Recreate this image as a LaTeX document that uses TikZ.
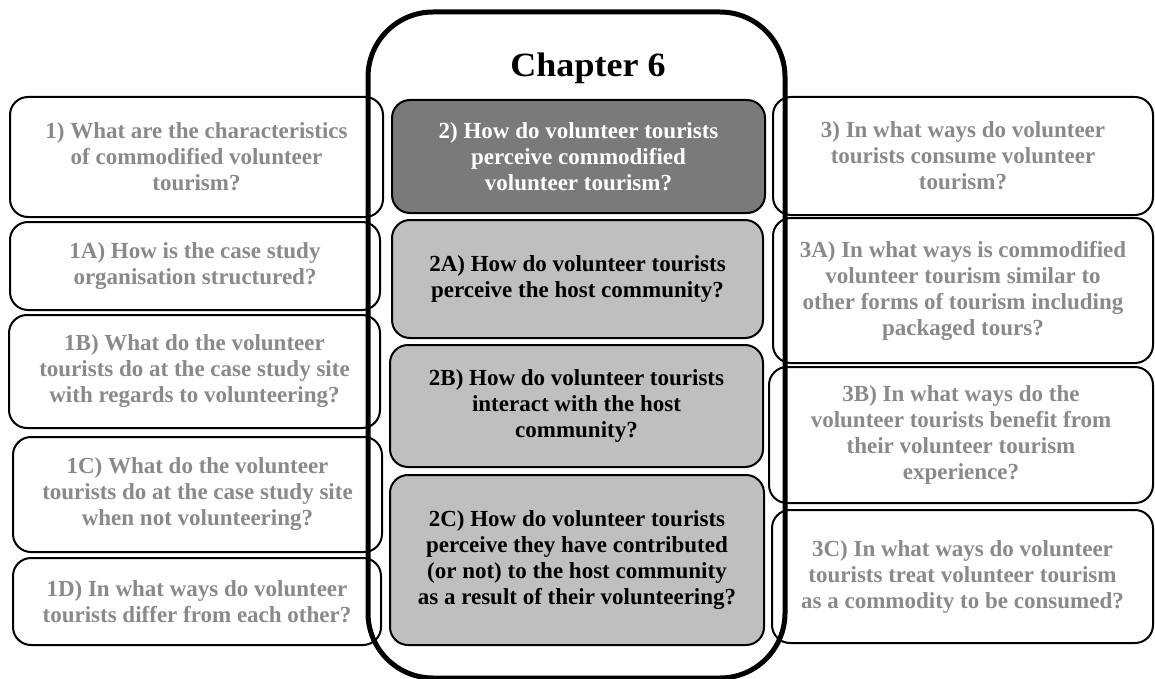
\documentclass[tikz,border=0pt]{standalone}
\usepackage{fontspec}
\setmainfont{Liberation Serif}
\newfontfamily\titlefamily{Liberation Serif}[FakeStretch=1.06]
\definecolor{qgray}{HTML}{8A8A8A}
\definecolor{darkfill}{HTML}{7A7A7A}
\definecolor{lightfill}{HTML}{BFBFBF}
\newcommand\qfont{\fontsize{23}{26}\selectfont\bfseries}
\tikzset{
  qbox/.style={draw=black, line width=2pt, rounded corners=18pt, fill=white,
    align=center, inner sep=0pt, font=\qfont, text=qgray},
  darkbox/.style={qbox, fill=darkfill, text=white},
  lightbox/.style={qbox, fill=lightfill, text=black},
  frame/.style={draw=black, line width=5pt, rounded corners=65pt},
}
\begin{document}
\begin{tikzpicture}[x=1pt,y=-1pt]
\useasboundingbox (0,0) rectangle (1155,679);
% left column
\node[qbox, minimum width=373pt, minimum height=120pt] (q1) at (196.5,157) {1) What are the characteristics\\of commodified volunteer\\tourism?};
\node[qbox, minimum width=370pt, minimum height=88pt] (q1a) at (195,266) {1A) How is the case study\\organisation structured?};
\node[qbox, minimum width=371pt, minimum height=113pt] (q1b) at (194.5,371.5) {1B) What do the volunteer\\tourists do at the case study site\\with regards to volunteering?};
\node[qbox, minimum width=369pt, minimum height=115pt] (q1c) at (197.5,494.5) {1C) What do the volunteer\\tourists do at the case study site\\when not volunteering?};
\node[qbox, minimum width=368pt, minimum height=87pt] (q1d) at (197,601.5) {1D) In what ways do volunteer\\tourists differ from each other?};
% right column
\node[qbox, minimum width=380pt, minimum height=118pt] (q3) at (963,156) {3) In what ways do volunteer\\tourists consume volunteer\\tourism?};
\node[qbox, minimum width=380pt, minimum height=145pt] (q3a) at (963,290.5) {3A) In what ways is commodified\\volunteer tourism similar to\\other forms of tourism including\\packaged tours?};
\node[qbox, minimum width=384pt, minimum height=136pt] (q3b) at (961,435) {3B) In what ways do the\\volunteer tourists benefit from\\their volunteer tourism\\experience?};
\node[qbox, minimum width=381pt, minimum height=133pt] (q3c) at (962.5,576.5) {3C) In what ways do volunteer\\tourists treat volunteer tourism\\as a commodity to be consumed?};
% chapter frame
\draw[frame] (368,12) rectangle (785,678);
\node[font=\titlefamily\fontsize{34}{38}\selectfont\bfseries, text=black] (title) at (588,68) {Chapter 6};
% centre column
\node[darkbox, minimum width=373pt, minimum height=113pt] (q2) at (578.5,156.5) {2) How do volunteer tourists\\perceive commodified\\volunteer tourism?};
\node[lightbox, minimum width=371pt, minimum height=118pt] (q2a) at (577.5,279) {2A) How do volunteer tourists\\perceive the host community?};
\node[lightbox, minimum width=373pt, minimum height=122pt] (q2b) at (576.5,406) {2B) How do volunteer tourists\\interact with the host\\community?};
\node[lightbox, minimum width=374pt, minimum height=170pt] (q2c) at (577,560) {2C) How do volunteer tourists\\perceive they have contributed\\(or not) to the host community\\as a result of their volunteering?};
\end{tikzpicture}
\end{document}
